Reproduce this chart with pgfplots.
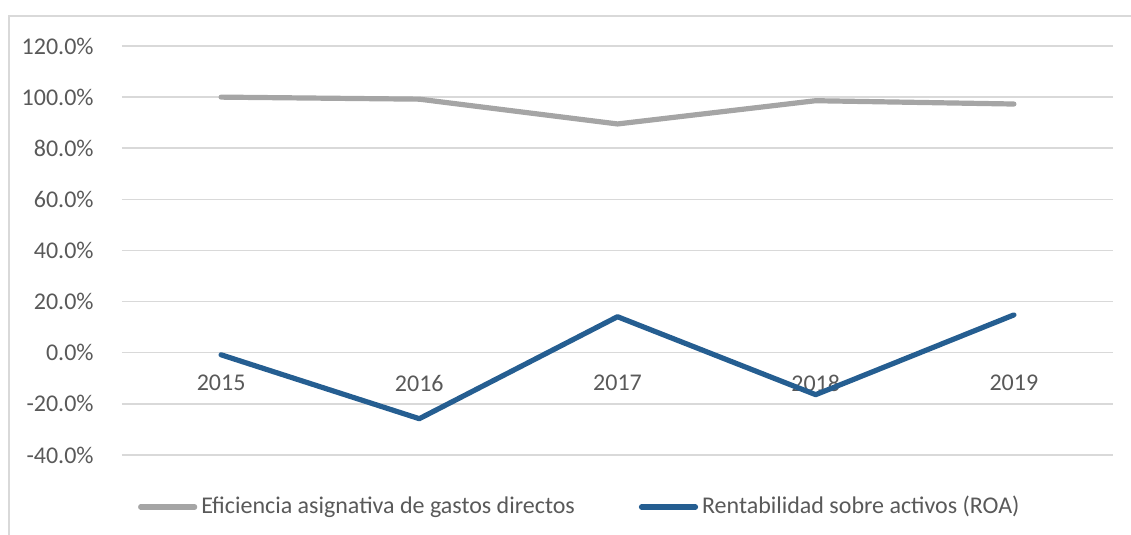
\documentclass[border=0pt]{standalone}
\usepackage{fontspec}
\setmainfont{Carlito}
\usepackage{pgfplots}
\pgfplotsset{compat=1.18}
\definecolor{gridc}{HTML}{D9D9D9}
\definecolor{txt}{HTML}{595959}
\definecolor{ser1}{HTML}{A5A5A5}
\definecolor{ser2}{HTML}{255E91}
\begin{document}
\fontsize{12}{14}\selectfont
\begin{tikzpicture}
\path[use as bounding box] (-61pt,-40pt) rectangle (504.5pt,227.5pt);
\draw[gridc, line width=0.75pt] (-56.5pt,-40pt) -- (-56.5pt,219.5pt) -- (504.5pt,219.5pt);
\begin{axis}[
  at={(0,0)}, anchor=south west,
  scale only axis, width=495.5pt, height=204.5pt,
  xmin=-0.5, xmax=4.5, ymin=-40, ymax=120,
  xtick={0,1,2,3,4}, xticklabels={2015,2016,2017,2018,2019},
  ytick={-40,-20,0,20,40,60,80,100,120},
  yticklabel={\pgfmathprintnumber[fixed,fixed zerofill,precision=1]{\tick}\%},
  /pgf/number format/assume math mode=true,
  axis x line=middle, axis y line=left,
  axis line style={draw=none},
  major tick length=0pt,
  ymajorgrids, grid style={gridc, line width=0.75pt},
  tick label style={font=\fontsize{12}{14}\selectfont, text=txt},
  yticklabel style={xshift=-10pt},
  xticklabel style={anchor=north, yshift=-7pt},
  legend columns=2,
  legend style={draw=none, fill=none, at={(0.463,-0.127)}, anchor=center,
    font=\fontsize{12}{14}\selectfont, text=txt,
    /tikz/every even column/.append style={column sep=30pt}},
  legend image code/.code={\draw[#1, line cap=round] (0pt,0pt) -- (27pt,0pt);},
  clip=false,
]
\addplot[ser1, line width=2.6pt, line cap=round, line join=round] coordinates {(0,100.0) (1,99.2) (2,89.5) (3,98.6) (4,97.3)};
\addlegendentry{Eficiencia asignativa de gastos directos}
\addplot[ser2, line width=2.6pt, line cap=round, line join=round] coordinates {(0,-0.8) (1,-25.8) (2,14.1) (3,-16.4) (4,14.8)};
\addlegendentry{Rentabilidad sobre activos (ROA)}
\end{axis}
\end{tikzpicture}
\end{document}
